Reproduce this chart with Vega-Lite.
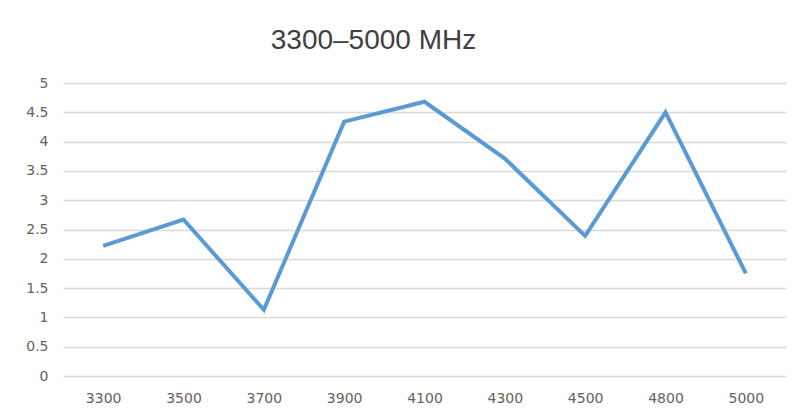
{
  "$schema": "https://vega.github.io/schema/vega-lite/v6.json",
  "autosize": {"type": "none"},
  "width": 723,
  "height": 293,
  "padding": {"left": 63, "top": 83, "right": 12, "bottom": 40},
  "background": "white",
  "title": {
    "text": "3300–5000 MHz",
    "font": "Liberation Sans",
    "fontSize": 28,
    "fontWeight": "normal",
    "color": "#404040",
    "anchor": "start",
    "offset": 21,
    "dx": 245
  },
  "data": {
    "values": [
      {"freq": "3300", "v": 2.22},
      {"freq": "3500", "v": 2.67},
      {"freq": "3700", "v": 1.13},
      {"freq": "3900", "v": 4.34},
      {"freq": "4100", "v": 4.68},
      {"freq": "4300", "v": 3.71},
      {"freq": "4500", "v": 2.39},
      {"freq": "4800", "v": 4.5},
      {"freq": "5000", "v": 1.75}
    ]
  },
  "config": {
    "view": {"stroke": null},
    "axis": {
      "labelFont": "DejaVu Sans",
      "labelFontSize": 14,
      "labelColor": "#6a6058",
      "domain": false,
      "ticks": false,
      "title": null
    }
  },
  "mark": {"type": "line", "color": "#5B9BD5", "strokeWidth": 4, "strokeJoin": "miter"},
  "encoding": {
    "x": {
      "field": "freq",
      "type": "ordinal",
      "sort": null,
      "scale": {"paddingInner": 0, "paddingOuter": 0.5},
      "axis": {"labelAngle": 0, "labelPadding": 15, "grid": false}
    },
    "y": {
      "field": "v",
      "type": "quantitative",
      "scale": {"domain": [0, 5], "nice": false},
      "axis": {
        "values": [0, 0.5, 1, 1.5, 2, 2.5, 3, 3.5, 4, 4.5, 5],
        "format": "~g",
        "labelPadding": 15,
        "grid": true,
        "gridColor": "#d9d9d9",
        "gridWidth": 1.5
      }
    }
  }
}
